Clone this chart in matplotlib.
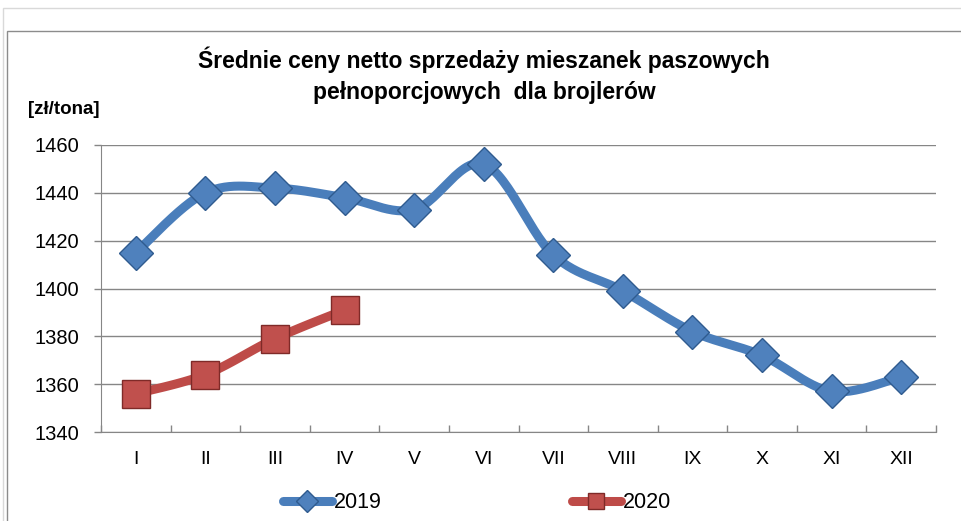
import numpy as np
import matplotlib.pyplot as plt
from matplotlib.patches import Rectangle

# dane
miesiace = ["I", "II", "III", "IV", "V", "VI", "VII", "VIII", "IX", "X", "XI", "XII"]
ceny_2019 = [1415, 1440, 1442, 1438, 1433, 1452, 1414, 1399, 1382, 1372, 1357, 1363]
ceny_2020 = [1356, 1364, 1379, 1391]
y_ticks = [1340, 1360, 1380, 1400, 1420, 1440, 1460]

plt.rcParams['font.family'] = ['Liberation Sans', 'DejaVu Sans']


def wygladz(x, y, n=30):
    # wygladzanie jak w Excelu (krzywe Beziera przez punkty)
    x = np.asarray(x, float)
    y = np.asarray(y, float)
    px = np.concatenate([[x[0]], x, [x[-1]]])
    py = np.concatenate([[y[0]], y, [y[-1]]])
    xs, ys = [], []
    t = np.linspace(0, 1, n)
    for i in range(1, len(px) - 2):
        p0 = np.array([px[i], py[i]])
        p3 = np.array([px[i + 1], py[i + 1]])
        p1 = p0 + (np.array([px[i + 1], py[i + 1]]) - np.array([px[i - 1], py[i - 1]])) / 6
        p2 = p3 - (np.array([px[i + 2], py[i + 2]]) - np.array([px[i], py[i]])) / 6
        b = ((1 - t) ** 3)[:, None] * p0 + (3 * (1 - t) ** 2 * t)[:, None] * p1 \
            + (3 * (1 - t) * t ** 2)[:, None] * p2 + (t ** 3)[:, None] * p3
        xs.extend(b[:, 0])
        ys.extend(b[:, 1])
    return np.array(xs), np.array(ys)


fig = plt.figure(figsize=(9.61, 5.21), dpi=100)
ax = fig.add_axes([101 / 961, 1 - 432 / 521, (936 - 101) / 961, (432 - 145) / 521])

# ramki wokol wykresu
fig.patches.append(Rectangle((3 / 961, -0.1), 1.2, 1 - 8 / 521 + 0.1, transform=fig.transFigure,
                             fill=False, edgecolor="#d9d9d9", linewidth=1))
fig.patches.append(Rectangle((7 / 961, -0.1), 1.2, 1 - 31 / 521 + 0.1, transform=fig.transFigure,
                             fill=False, edgecolor="#8c8c8c", linewidth=1))

x19 = np.arange(len(ceny_2019))
x20 = np.arange(len(ceny_2020))

niebieski = "#4a7ebb"
czerwony = "#be4b48"

sx, sy = wygladz(x19, ceny_2019)
ax.plot(sx, sy, color=niebieski, linewidth=6.5, solid_capstyle="round", zorder=3)
ax.plot(x19, ceny_2019, linestyle="none", marker="D", markersize=17,
        markerfacecolor="#4f81bd", markeredgecolor="#2f5b8f", markeredgewidth=1, zorder=4)
sx, sy = wygladz(x20, ceny_2020)
ax.plot(sx, sy, color=czerwony, linewidth=6.5, solid_capstyle="round", zorder=3)
ax.plot(x20, ceny_2020, linestyle="none", marker="s", markersize=20,
        markerfacecolor="#c0504d", markeredgecolor="#7f2a28", markeredgewidth=1, zorder=4)

ax.set_xlim(-0.5, len(miesiace) - 0.5)
ax.set_ylim(1340, 1460)
ax.set_yticks(y_ticks)
ax.set_yticklabels([str(v) for v in y_ticks], fontsize=14.5)
ax.set_xticks(x19)
ax.set_xticklabels(miesiace, fontsize=14)
ax.set_xticks(np.arange(-0.5, len(miesiace)), minor=True)
ax.tick_params(axis="x", which="major", length=0, pad=14)
ax.tick_params(axis="x", which="minor", direction="in", length=5, color="#868686", width=1)
ax.tick_params(axis="y", length=5, color="#868686", width=1, pad=11)
ax.grid(axis="y", color="#868686", linewidth=1)
for s in ["top", "right"]:
    ax.spines[s].set_visible(False)
ax.spines["left"].set_color("#868686")
ax.spines["bottom"].set_color("#868686")

fig.text(484 / 961, 1 - 60 / 521, "Średnie ceny netto sprzedaży mieszanek paszowych",
         ha="center", va="center", fontsize=16.5, fontweight="bold")
fig.text(484 / 961, 1 - 92 / 521, "pełnoporcjowych  dla brojlerów",
         ha="center", va="center", fontsize=16.5, fontweight="bold")
fig.text(28 / 961, 1 - 110 / 521, "[zł/tona]", ha="left", va="center", fontsize=13.5, fontweight="bold")

# legenda
h1, = ax.plot([], [], color=niebieski, linewidth=6.5, marker="D", markersize=11,
              markerfacecolor="#4f81bd", markeredgecolor="#2f5b8f", solid_capstyle="round")
h2, = ax.plot([], [], color=czerwony, linewidth=6.5, marker="s", markersize=11,
              markerfacecolor="#c0504d", markeredgecolor="#7f2a28", solid_capstyle="round")
fig.legend([h1, h2], ["2019", "2020"], loc="center", bbox_to_anchor=(477 / 961, 1 - 503 / 521),
           ncol=2, frameon=False, fontsize=15.5, handlelength=2.3, handletextpad=0.1, columnspacing=8.8)

fig.savefig("out.png", dpi=100)
